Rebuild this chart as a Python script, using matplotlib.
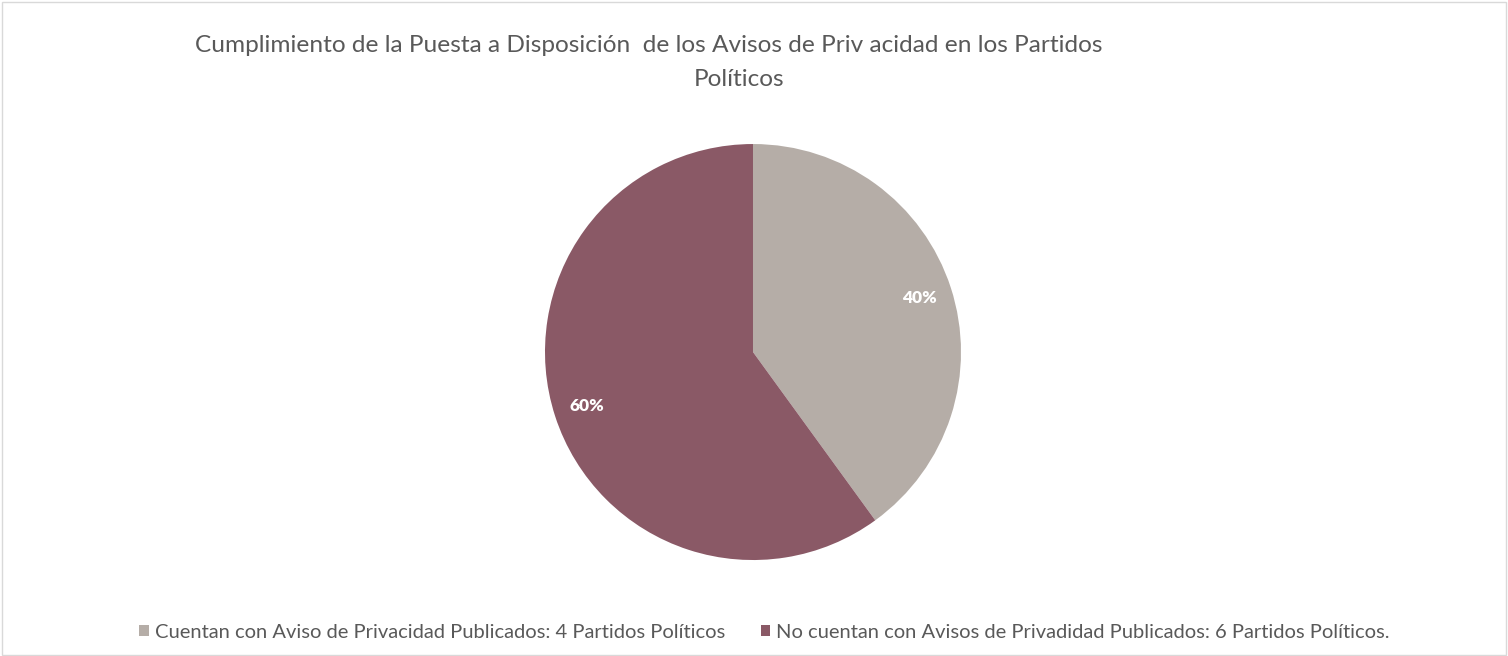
import matplotlib.pyplot as plt
from matplotlib.patches import Patch, Rectangle

# datos
categorias = ['Cuentan con Aviso de Privacidad Publicados: 4 Partidos Políticos',
              'No cuentan con Avisos de Privadidad Publicados: 6 Partidos Políticos.']
valores = [4, 6]
colores = ['#B5ADA7', '#8A5966']

titulo_1 = 'Cumplimiento de la Puesta a Disposición  de los Avisos de Priv acidad en los Partidos'
titulo_2 = 'Políticos'

plt.rcParams['font.family'] = ['Lato', 'DejaVu Sans']

fig = plt.figure(figsize=(15.08, 6.56), dpi=100)

# borde del grafico
fig.patches.append(Rectangle((0.0015, 0.002), 0.997, 0.995, transform=fig.transFigure,
                             fill=False, edgecolor='#D9D9D9', linewidth=1))

ax = fig.add_axes([0.3614, 0.1463, 416 / 1508, 416 / 656])
wedges, texts, autotexts = ax.pie(valores, colors=colores, startangle=90, counterclock=False,
                                  autopct='%1.0f%%', pctdistance=0.84,
                                  textprops={'color': 'white', 'fontsize': 12.5, 'fontweight': 'heavy'})
ax.set_xlim(-1, 1)
ax.set_ylim(-1, 1)
ax.set_aspect('equal')
ax.axis('off')

fig.text(649 / 1508, 1 - 46 / 656, titulo_1, ha='center', va='center',
         fontsize=17.6, color='#595959')
fig.text(739 / 1508, 1 - 80 / 656, titulo_2, ha='center', va='center',
         fontsize=17.6, color='#595959')

handles = [Patch(facecolor=c, edgecolor='none') for c in colores]
fig.legend(handles, categorias, loc='center', bbox_to_anchor=(0.507, 1 - 632 / 656),
           ncol=2, frameon=False, fontsize=14.5, labelcolor='#595959',
           handlelength=0.45, handleheight=0.45, handletextpad=0.3, columnspacing=1.8)

fig.savefig('out.png', dpi=100)
